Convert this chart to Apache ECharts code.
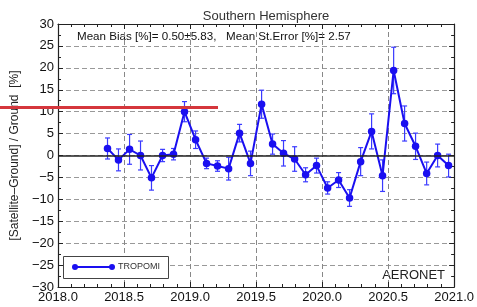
<!DOCTYPE html>
<html>
<head>
<meta charset="utf-8">
<script src="https://cdn.jsdelivr.net/npm/echarts@6/dist/echarts.min.js"></script>
<style>
  html, body { margin: 0; padding: 0; background: #fff; }
  #main { width: 477px; height: 307px; }
</style>
</head>
<body>
<div id="main"></div>
<script>
// monthly means, May 2018 .. Dec 2020 (decimal year at mid-month)
var years = [
  2018.375, 2018.458, 2018.542, 2018.625, 2018.708, 2018.792, 2018.875, 2018.958,
  2019.042, 2019.125, 2019.208, 2019.292, 2019.375, 2019.458, 2019.542, 2019.625,
  2019.708, 2019.792, 2019.875, 2019.958,
  2020.042, 2020.125, 2020.208, 2020.292, 2020.375, 2020.458, 2020.542, 2020.625,
  2020.708, 2020.792, 2020.875, 2020.958
];
var bias = [
  1.6, -1.0, 1.4, 0.0, -5.1, 0.0, 0.3, 10.0,
  3.6, -1.8, -2.4, -3.0, 5.1, -1.8, 11.7, 2.6, 0.5, -0.8, -4.4, -2.3,
  -7.4, -5.6, -9.7, -1.4, 5.5, -4.6, 19.4, 7.3, 2.1, -4.1, 0.0, -2.3
];
var stdErr = [
  2.4, 2.5, 3.4, 3.3, 2.8, 1.4, 1.3, 2.3,
  2.0, 1.2, 1.2, 2.6, 2.0, 2.8, 3.2, 2.3, 2.9, 2.8, 1.6, 1.7,
  1.4, 1.7, 1.9, 3.2, 4.0, 3.6, 5.3, 4.0, 3.0, 2.6, 2.6, 2.6
];

var FONT = 'Liberation Sans';
var BLUE = '#1a0ff0';

var myChart = echarts.init(document.getElementById('main'));

var lineData = years.map(function (x, i) { return [x, bias[i]]; });
var errData = years.map(function (x, i) { return [x, bias[i] - stdErr[i], bias[i] + stdErr[i]]; });

function minus(v) {
  return v < 0 ? '\u2212' + Math.abs(v) : String(v);
}

var axisLine = { show: true, onZero: false, lineStyle: { color: '#222', width: 1.2 } };
var axisTick = { show: true, inside: true, length: 5, lineStyle: { color: '#222' } };

var option = {
  animation: false,
  title: {
    text: 'Southern Hemisphere',
    left: 261, top: 5, textAlign: 'center',
    textStyle: { fontFamily: FONT, fontSize: 13, fontWeight: 'normal', color: '#333' }
  },
  grid: { left: 58, right: 20, top: 24, bottom: 20 },
  xAxis: [
    {
      type: 'value', min: 2018, max: 2021, interval: 0.5,
      axisLine: axisLine, axisTick: axisTick,
      minorTick: { show: true, splitNumber: 5, length: 3, lineStyle: { color: '#222' } },
      axisLabel: {
        margin: 4, color: '#111', fontFamily: FONT, fontSize: 13,
        formatter: function (v) { return v.toFixed(1); }
      },
      splitLine: { show: true, lineStyle: { color: '#888', type: [5, 3] } }
    },
    {
      type: 'value', min: 2018, max: 2021, interval: 0.5, position: 'top',
      axisLine: axisLine, axisTick: axisTick,
      minorTick: { show: true, splitNumber: 5, length: 3, lineStyle: { color: '#222' } },
      axisLabel: { show: false },
      splitLine: { show: false }
    }
  ],
  yAxis: [
    {
      type: 'value', min: -30, max: 30, interval: 5,
      axisLine: axisLine, axisTick: axisTick,
      minorTick: { show: true, splitNumber: 2, length: 3, lineStyle: { color: '#222' } },
      name: '[Satellite\u2013Ground] / Ground  [%]',
      nameLocation: 'middle', nameGap: 31, nameRotate: 90,
      nameTextStyle: { fontFamily: FONT, fontSize: 12, color: '#222' },
      axisLabel: { margin: 4, color: '#111', fontFamily: FONT, fontSize: 13, formatter: minus },
      splitLine: { show: true, lineStyle: { color: '#999', type: [5, 3] } }
    },
    {
      type: 'value', min: -30, max: 30, interval: 5, position: 'right',
      axisLine: axisLine, axisTick: axisTick,
      minorTick: { show: true, splitNumber: 2, length: 3, lineStyle: { color: '#222' } },
      axisLabel: { show: false },
      splitLine: { show: false }
    }
  ],
  series: [
    {
      name: 'error',
      type: 'custom',
      silent: true,
      z: 3,
      data: errData,
      renderItem: function (params, api) {
        var x = api.value(0);
        var lo = api.coord([x, api.value(1)]);
        var hi = api.coord([x, api.value(2)]);
        var w = 2.5;
        var style = { stroke: '#3a3aff', lineWidth: 1.2 };
        return {
          type: 'group',
          children: [
            { type: 'line', shape: { x1: lo[0], y1: lo[1], x2: hi[0], y2: hi[1] }, style: style },
            { type: 'line', shape: { x1: lo[0] - w, y1: lo[1], x2: lo[0] + w, y2: lo[1] }, style: style },
            { type: 'line', shape: { x1: hi[0] - w, y1: hi[1], x2: hi[0] + w, y2: hi[1] }, style: style }
          ]
        };
      }
    },
    {
      name: 'TROPOMI',
      type: 'line',
      z: 4,
      data: lineData,
      symbol: 'circle',
      symbolSize: 7.5,
      itemStyle: { color: BLUE },
      lineStyle: { color: BLUE, width: 2 },
      markLine: {
        silent: true,
        symbol: 'none',
        label: { show: false },
        lineStyle: { color: '#222', width: 1.6, type: 'solid' },
        data: [{ yAxis: 0 }]
      }
    }
  ],
  graphic: [
    {
      type: 'text', left: 77, top: 31,
      style: {
        text: 'Mean Bias [%]= 0.50\u00b15.83,   Mean St.Error [%]= 2.57',
        font: '11.6px "Liberation Sans"', fill: '#111'
      }
    },
    {
      type: 'text', right: 32, top: 269,
      style: { text: 'AERONET', font: '13px "Liberation Sans"', fill: '#222' }
    },
    // legend box
    {
      type: 'rect', left: 63, top: 256, z: 10,
      shape: { width: 105, height: 22 },
      style: { fill: '#fff', stroke: '#444', lineWidth: 1 }
    },
    {
      type: 'line', z: 11,
      shape: { x1: 75, y1: 267, x2: 112, y2: 267 },
      style: { stroke: BLUE, lineWidth: 2 }
    },
    { type: 'circle', z: 11, shape: { cx: 75, cy: 267, r: 3 }, style: { fill: BLUE } },
    { type: 'circle', z: 11, shape: { cx: 112, cy: 267, r: 3 }, style: { fill: BLUE } },
    {
      type: 'text', left: 118, top: 262, z: 11,
      style: { text: 'TROPOMI', font: '9px "Liberation Sans"', fill: '#333' }
    },
    // red overlay bar present in the reference image
    {
      type: 'rect', left: 0, top: 106, z: 20,
      shape: { width: 218, height: 3 },
      style: { fill: '#d5363c' }
    }
  ]
};

myChart.setOption(option);
</script>
</body>
</html>
